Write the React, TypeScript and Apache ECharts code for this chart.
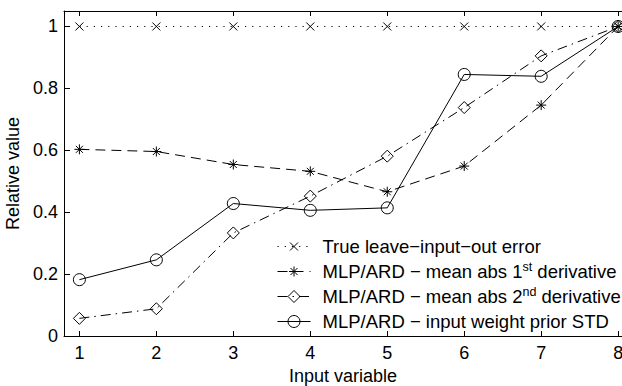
import React, { useEffect, useRef } from "react";
import * as echarts from "echarts";

const xValues = [1, 2, 3, 4, 5, 6, 7, 8];
const xTicks = [1, 2, 3, 4, 5, 6, 7, 8];
const yTicks = [0, 0.2, 0.4, 0.6, 0.8, 1];
const trueLeaveOut = [1, 1, 1, 1, 1, 1, 1, 1];
const meanAbs1st = [0.603, 0.596, 0.554, 0.532, 0.466, 0.549, 0.746, 1.0];
const meanAbs2nd = [0.057, 0.088, 0.333, 0.452, 0.581, 0.738, 0.905, 1.0];
const priorStd = [0.182, 0.246, 0.428, 0.406, 0.414, 0.845, 0.839, 1.0];

const names = [
  "True leave\u2212input\u2212out error",
  "MLP/ARD \u2212 mean abs 1st derivative",
  "MLP/ARD \u2212 mean abs 2nd derivative",
  "MLP/ARD \u2212 input weight prior STD",
];
const legendRich: Record<string, string> = {
  [names[0]]: "True leave\u2212input\u2212out error",
  [names[1]]: "MLP/ARD \u2212 mean abs 1{sup|st} derivative",
  [names[2]]: "MLP/ARD \u2212 mean abs 2{sup|nd} derivative",
  [names[3]]: "MLP/ARD \u2212 input weight prior STD",
};

const FONT = "Liberation Sans, Arial, Helvetica, sans-serif";
const FS = 18;
const LFS = 18.5;

const xSym = "path://M0 0 M12 12 M2 2 L10 10 M10 2 L2 10";
const starSym =
  "path://M0 0 M12 12 M6 1 L6 11 M1 6 L11 6 M2.5 2.5 L9.5 9.5 M9.5 2.5 L2.5 9.5";
const diamondSym = "path://M6 0 L11.5 6 L6 12 L0.5 6 Z";

const pts = (ys: number[]) => xValues.map((x, i) => [x, ys[i]]);

export default function App() {
  const ref = useRef<HTMLDivElement>(null);
  useEffect(() => {
    if (!ref.current) return;
    const chart = echarts.init(ref.current, null, { renderer: "svg" });
    const mk = (name: string, data: number[], symbol: string, dash: any) => ({
      name,
      type: "line",
      data: pts(data),
      symbol,
      symbolSize: 12,
      color: "#000",
      lineStyle: { color: "#000", width: 1, type: dash },
      itemStyle: { color: "rgba(0,0,0,0)", borderColor: "#000", borderWidth: 1 },
      emphasis: { disabled: true },
      xAxisIndex: 0,
      yAxisIndex: 0,
    });
    chart.setOption({
      animation: false,
      backgroundColor: "#fff",
      grid: {
        left: 64,
        top: 11,
        right: 0,
        bottom: 50,
        containLabel: false,
        outerBoundsMode: "none",
      },
      xAxis: [
        {
          type: "value",
          position: "bottom",
          min: 0.8,
          max: 8.05,
          axisLine: { show: true, lineStyle: { color: "#000", width: 1 } },
          axisTick: { show: true, inside: true, length: 5, customValues: xTicks, lineStyle: { color: "#000" } },
          axisLabel: {
            customValues: xTicks,
            color: "#000",
            fontSize: FS,
            fontFamily: FONT,
            margin: 8,
          },
          splitLine: { show: false },
          name: "Input variable",
          nameLocation: "middle",
          nameGap: 28,
          nameTextStyle: { color: "#000", fontSize: FS, fontFamily: FONT },
        },
        {
          type: "value",
          position: "top",
          min: 0.8,
          max: 8.05,
          axisLine: { show: true, onZero: false, lineStyle: { color: "#000", width: 1 } },
          axisTick: { show: true, inside: true, length: 5, customValues: xTicks, lineStyle: { color: "#000" } },
          axisLabel: { show: false },
          splitLine: { show: false },
        },
      ],
      yAxis: [
        {
          type: "value",
          position: "left",
          min: 0,
          max: 1.05,
          axisLine: { show: true, onZero: false, lineStyle: { color: "#000", width: 1 } },
          axisTick: { show: true, inside: true, length: 6, customValues: yTicks, lineStyle: { color: "#000" } },
          axisLabel: {
            customValues: yTicks,
            color: "#000",
            fontSize: FS,
            fontFamily: FONT,
            margin: 6,
            formatter: (v: number) => String(+v.toFixed(1)),
          },
          splitLine: { show: false },
          name: "Relative value",
          nameLocation: "middle",
          nameGap: 33,
          nameRotate: 90,
          nameTextStyle: { color: "#000", fontSize: FS, fontFamily: FONT },
        },
      ],
      legend: {
        show: true,
        orient: "vertical",
        left: 277,
        top: 235,
        padding: 0,
        itemWidth: 33,
        itemHeight: 15,
        itemGap: 2,
        selectedMode: false,
        data: names,
        itemStyle: { color: "rgba(0,0,0,0)", borderColor: "#000", borderWidth: 1 },
        lineStyle: { color: "#000", width: 1, type: "inherit" },
        formatter: (n: string) => legendRich[n] || n,
        textStyle: {
          color: "#000",
          fontSize: LFS,
          fontFamily: FONT,
          lineHeight: 23,
          padding: [0, 0, 0, 7],
          rich: {
            sup: { fontSize: 12.5, lineHeight: 12, verticalAlign: "top", fontFamily: FONT, color: "#000" },
          },
        },
      },
      series: [
        mk(names[0], trueLeaveOut, xSym, [1.2, 6]),
        mk(names[1], meanAbs1st, starSym, [10, 6]),
        mk(names[2], meanAbs2nd, diamondSym, [10, 5, 1.5, 5]),
        mk(names[3], priorStd, "circle", "solid"),
      ],
    });
    return () => chart.dispose();
  }, []);
  return (
    <div
      ref={ref}
      style={{ position: "fixed", left: 0, top: 0, width: 622, height: 386, background: "#fff" }}
    />
  );
}
